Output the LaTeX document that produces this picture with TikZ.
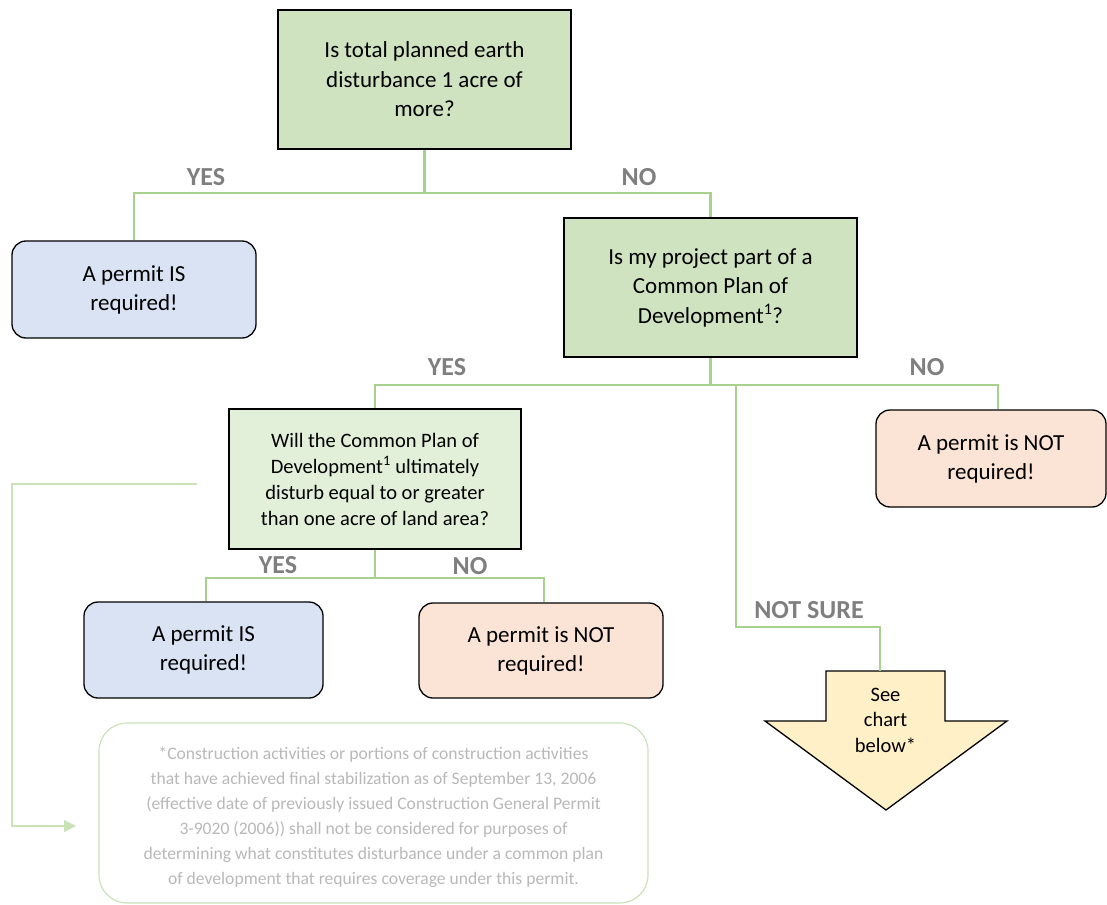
\documentclass[tikz,border=0pt]{standalone}
\usepackage{fontspec}
\setmainfont{Carlito}
\usepackage{tikz}
\usetikzlibrary{arrows.meta}
\definecolor{qgreen}{HTML}{D0E3C1}
\definecolor{qpale}{HTML}{E2EFD9}
\definecolor{yblue}{HTML}{DAE3F3}
\definecolor{npeach}{HTML}{FBE4D6}
\definecolor{linegreen}{HTML}{A9D18E}
\definecolor{paleline}{HTML}{C9E2B8}
\definecolor{labelgray}{HTML}{7F7F7F}
\definecolor{notegray}{HTML}{B8B8B8}
\definecolor{chartyellow}{HTML}{FFF0C8}
\tikzset{
  question/.style={draw=black,line width=1.3pt,fill=qgreen,align=center,inner sep=0pt},
  answer/.style={draw=black,line width=1.3pt,rounded corners=14pt,align=center,inner sep=0pt,font=\fontsize{23}{29}\selectfont},
  link/.style={draw=linegreen,line width=2.2pt},
  choice/.style={font=\fontsize{26}{28}\selectfont\bfseries,text=labelgray}
}
\begin{document}
\begin{tikzpicture}[x=1pt,y=-1pt]
\useasboundingbox (0,0) rectangle (1107,904);
% decision boxes
\node[question,minimum width=293pt,minimum height=139pt,font=\fontsize{23}{29.5}\selectfont] (area) at (424.5,79.5) {Is total planned earth\\disturbance 1 acre of\\more?};
\node[question,minimum width=293pt,minimum height=139pt,font=\fontsize{23}{29.5}\selectfont] (common) at (710.5,287.5) {Is my project part of a\\Common Plan of\\Development\textsuperscript{1}?};
\node[question,fill=qpale,minimum width=292pt,minimum height=140pt,font=\fontsize{20.5}{26}\selectfont] (ultimate) at (375,479) {Will the Common Plan of\\Development\textsuperscript{1} ultimately\\disturb equal to or greater\\than one acre of land area?};
% outcomes
\node[answer,fill=yblue,minimum width=244pt,minimum height=97pt] (isreq) at (134,289.5) {A permit IS\\required!};
\node[answer,fill=npeach,minimum width=230pt,minimum height=97pt] (notreq) at (991,458.5) {A permit is NOT\\required!};
\node[answer,fill=yblue,minimum width=239pt,minimum height=96pt] (isreqb) at (203.5,650) {A permit IS\\required!};
\node[answer,fill=npeach,minimum width=244pt,minimum height=95pt] (notreqb) at (541,650.5) {A permit is NOT\\required!};
% see chart arrow
\draw[black,line width=1.3pt,fill=chartyellow,line join=miter] (826,671) -- (945,671) -- (945,721) -- (1007,721) -- (886,810) -- (765,721) -- (826,721) -- cycle;
\coordinate (chart) at (880,671);
\node[align=center,font=\fontsize{20.5}{25.5}\selectfont] (seechart) at (885.5,720) {See\\chart\\below*};
% footnote
\node[draw=paleline,line width=1.2pt,rounded corners=28pt,minimum width=549pt,minimum height=180pt] (note) at (373.5,813) {};
\node[align=center,text=notegray,font=\fontsize{17.6}{25}\selectfont] (notetext) at (373.5,817) {*Construction activities or portions of construction activities\\that have achieved final stabilization as of September 13, 2006\\(effective date of previously issued Construction General Permit\\3-9020 (2006)) shall not be considered for purposes of\\determining what constitutes disturbance under a common plan\\of development that requires coverage under this permit.};
% connectors
\coordinate (j1) at (424.5,193);
\coordinate (j2) at (710.5,385);
\coordinate (j3) at (375,578);
\draw[link] (area.south) -- (j1);
\draw[link] (j1) -| (isreq.north);
\draw[link] (j1) -| (common.north);
\draw[link] (common.south) -- (j2);
\draw[link] (j2) -| (ultimate.north);
\draw[link] (j2) -| ([xshift=7pt]notreq.north);
\draw[link] (736,385) |- (880,627) -- (chart);
\draw[link] (ultimate.south) -- (j3);
\draw[link] (j3) -| ([xshift=2.5pt]isreqb.north);
\draw[link] (j3) -| ([xshift=3pt]notreqb.north);
\coordinate (loopstart) at (197,484);
\coordinate (loopend) at (76,826);
\draw[draw=paleline,line width=1.2pt,-{Triangle[length=12pt,width=12pt,fill=paleline]}] (loopstart) -- (12,484) |- (loopend);
% answer labels
\node[choice] (yes1) at (206,177) {YES};
\node[choice] (no1) at (639,177) {NO};
\node[choice] (yes2) at (447,367) {YES};
\node[choice] (no2) at (927,367) {NO};
\node[choice] (yes3) at (278,565) {YES};
\node[choice] (no3) at (470,566) {NO};
\node[choice] (unsure) at (809,610) {NOT SURE};
\end{tikzpicture}
\end{document}
